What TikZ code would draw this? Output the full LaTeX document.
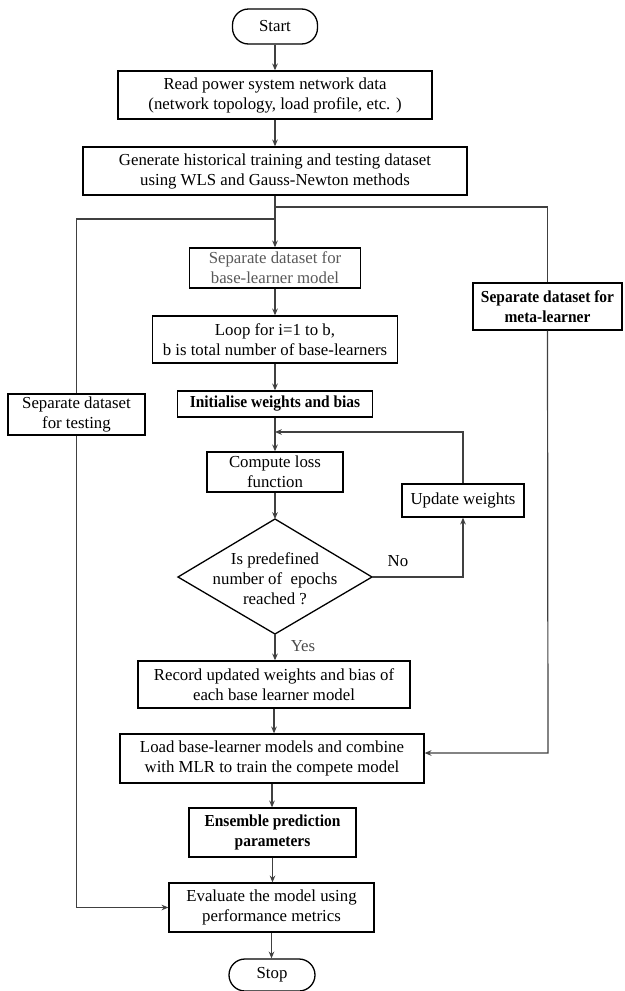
\documentclass[tikz,border=0pt]{standalone}
\usepackage{fontspec}
\setmainfont{Liberation Serif}[BoldFeatures={FakeStretch=0.92}]
\usetikzlibrary{arrows.meta}
\begin{document}
\begin{tikzpicture}[x=0.5pt,y=-0.5pt,
  txt/.style={font=\fontsize{8.4}{10}\selectfont, align=center},
  box/.style={txt, draw=black, line width=0.65pt, inner sep=0pt},
  bbox/.style={box, font=\fontsize{8.4}{10}\selectfont\bfseries},
  term/.style={box, rounded corners=8pt},
  ln/.style={draw=black!75, line width=0.6pt},
  arr/.style={ln, -{Stealth[length=3.4pt,width=2.8pt]}}]
\useasboundingbox (0,0) rectangle (625,991);

% nodes
\node[term, minimum width=42.5pt, minimum height=17.5pt] (start) at (275,26.5) {Start};
\node[box, minimum width=157pt, minimum height=24pt] (read) at (275,95) {Read power system network data\\(network topology, load profile, etc. )};
\node[box, minimum width=192pt, minimum height=24pt] (gen) at (275,171) {Generate historical training and testing dataset\\using WLS and Gauss-Newton methods};
\node[box, minimum width=85.5pt, minimum height=20pt, text=black!65] (base) at (275,268) {Separate dataset for\\base-learner model};
\node[bbox, minimum width=74.5pt, minimum height=23.5pt] (meta) at (547.5,306.5) {Separate dataset for\\meta-learner};
\node[box, minimum width=122.5pt, minimum height=23.5pt] (loop) at (275,339.5) {Loop for i=1 to b,\\b is total number of base-learners};
\node[bbox, minimum width=97.5pt, minimum height=13pt] (init) at (275,404) {Initialise weights and bias};
\node[box, minimum width=68.5pt, minimum height=20.5pt] (test) at (76.5,414.5) {Separate dataset\\for testing};
\node[box, minimum width=68pt, minimum height=20pt] (comp) at (275,472) {Compute loss\\function};
\node[box, minimum width=61pt, minimum height=16.5pt] (upd) at (463,500.5) {Update weights};

% decision diamond
\coordinate (decN) at (275,519);
\coordinate (decE) at (372,577);
\coordinate (decS) at (275,634);
\coordinate (decW) at (178,577);
\draw[draw=black, line width=0.65pt] (decN) -- (decE) -- (decS) -- (decW) -- cycle;
\node[txt] (dec) at (275,579) {Is predefined\\number of\ \ epochs\\reached ?};
\node[txt] (no) at (398,561) {No};
\node[txt, text=black!70] (yes) at (303,646) {Yes};

\node[box, minimum width=136pt, minimum height=23.5pt] (rec) at (274,684.5) {Record updated weights and bias of\\each base learner model};
\node[box, minimum width=152pt, minimum height=24.5pt] (load) at (272,758.5) {Load base-learner models and combine\\with MLR to train the compete model};
\node[bbox, minimum width=83.5pt, minimum height=24.5pt] (ens) at (272.5,832.5) {Ensemble prediction\\parameters};
\node[box, minimum width=102.5pt, minimum height=24.5pt] (eval) at (271.5,907.5) {Evaluate the model using\\performance metrics};
\node[term, minimum width=43pt, minimum height=16pt] (stop) at (272,975) {Stop};

% helper coordinates
\coordinate (brR) at (275,207);
\coordinate (brL) at (275,219);
\coordinate (fb) at (275,432);
\coordinate (metaC) at (548,753);

% connectors
\draw[arr] (start.south) -- (start.south |- read.north);
\draw[arr] (read.south) -- (read.south |- gen.north);
\draw[arr] (gen.south) -- (gen.south |- base.north);
\draw[ln] (brR) -| (meta.north);
\draw[ln] (brL) -| (test.north);
\draw[arr] (base.south) -- (base.south |- loop.north);
\draw[arr] (loop.south) -- (loop.south |- init.north);
\draw[arr] (init.south) -- (init.south |- comp.north);
\draw[arr] (upd.north) |- (fb);
\draw[arr] (comp.south) -- (decN);
\draw[arr] (decE) -| (upd.south);
\draw[arr] (decS) -- (decS |- rec.north);
\draw[arr] (rec.south) -- (rec.south |- load.north);
\draw[arr] (load.south) -- (load.south |- ens.north);
\draw[arr] (ens.south) -- (ens.south |- eval.north);
\draw[arr] (eval.south) -- (eval.south |- stop.north);
\draw[arr] (meta.south) -- (metaC) -- (metaC -| load.east);
\draw[arr] (test.south) |- (eval.west);
\end{tikzpicture}
\end{document}
